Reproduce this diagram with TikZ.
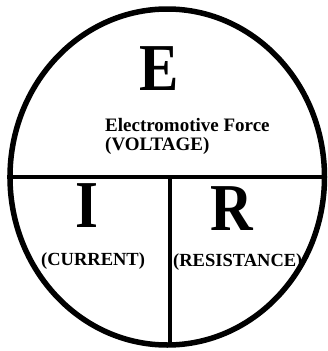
\documentclass[tikz,border=0pt]{standalone}
\usepackage{fontspec}
\setmainfont{Liberation Serif}
\usetikzlibrary{shapes.geometric}
\begin{document}
\begin{tikzpicture}[x=1pt,y=-1pt,
  bigletter/.style={font=\fontsize{67}{67}\selectfont\bfseries, inner sep=0pt, anchor=base},
  smalltext/.style={font=\fontsize{19}{20}\selectfont\bfseries, inner sep=0pt, anchor=base west},
  lowtext/.style={font=\fontsize{18.5}{20}\selectfont\bfseries, inner sep=0pt, anchor=base west},
  divider/.style={line width=4.5pt}]
\useasboundingbox (0,0) rectangle (328,351);
\fill[white] (0,0) rectangle (328,351);
\node[ellipse, draw, line width=5.5pt, minimum width=314.5pt, minimum height=336pt, inner sep=0pt] (ring) at (167.25,177) {};
\coordinate (hl) at (ring.west);
\coordinate (hr) at (ring.east);
\coordinate (vt) at (170,177);
\coordinate (vb) at (170,344);
\draw[divider] (hl) -- (hr);
\draw[divider] (vt) -- (vb);
\node[bigletter] (E) at (159,90) {\scalebox{0.88}[1]{E}};
\node[bigletter] (I) at (86.5,227) {\scalebox{0.88}[1]{I}};
\node[bigletter] (R) at (231.5,230) {\scalebox{0.88}[1]{R}};
\node[smalltext] (emf) at (105,131) {Electromotive Force};
\node[smalltext] (volt) at (105,150.5) {(VOLTAGE)};
\node[lowtext] (cur) at (41,265) {(CURRENT)};
\node[lowtext] (res) at (173,266) {(RESISTANCE)};
\draw[line width=3pt] (333,-1) arc (100:250:7);
\end{tikzpicture}
\end{document}
